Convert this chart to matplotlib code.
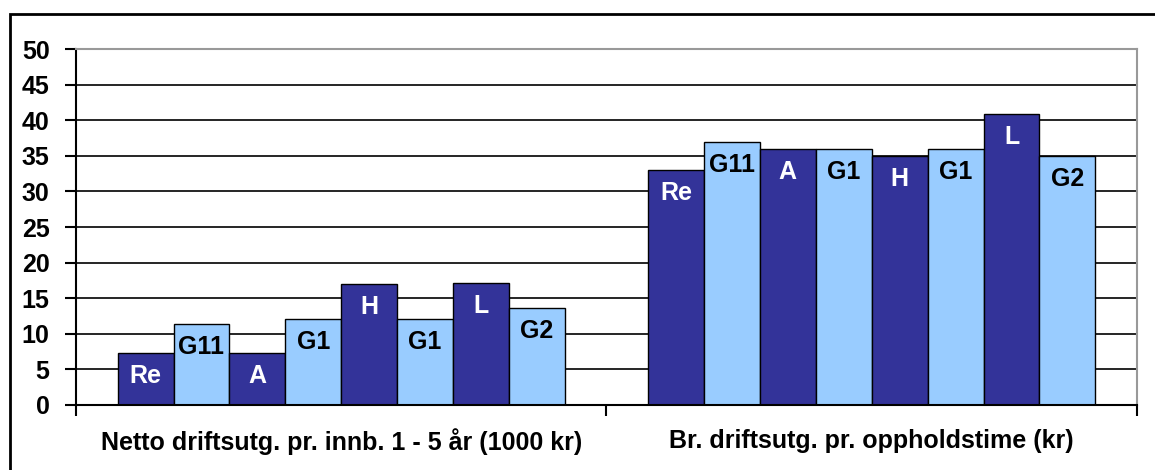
import numpy as np
import matplotlib.pyplot as plt
from matplotlib.patches import Rectangle

plt.rcParams['font.family'] = ['Liberation Sans', 'DejaVu Sans']
plt.rcParams['font.weight'] = 'bold'

#################### Data ####################
CATEGORIES = ['Netto driftsutg. pr. innb. 1 - 5 år (1000 kr)',
              'Br. driftsutg. pr. oppholdstime (kr)']
UNITS = ['Re', 'G11', 'A', 'G1', 'H', 'G1', 'L', 'G2']
NETTO = [7.3, 11.4, 7.3, 12.1, 17.0, 12.1, 17.1, 13.6]
BRUTTO = [33.0, 37.0, 35.9, 35.9, 35.0, 35.9, 40.9, 35.0]
#################### Data ####################

DARK = '#333399'
LIGHT = '#99CCFF'
FS = 18

fig = plt.figure(figsize=(11.55, 4.70), dpi=100)
ax = fig.add_axes([0.0658, 0.1383, 0.9186, 0.7574])

# outer chart frame (runs off the right and bottom edge)
fig.patches.append(Rectangle((9.5 / 1155, -0.05), 1.2, 0.05 + 1 - 14 / 470,
                             transform=fig.transFigure, fill=False,
                             edgecolor='black', linewidth=2, clip_on=False))

width = 0.1054
values = np.array([NETTO, BRUTTO])
for i, unit in enumerate(UNITS):
    color = DARK if i % 2 == 0 else LIGHT
    txt_color = 'white' if i % 2 == 0 else 'black'
    xs = np.arange(len(CATEGORIES)) + (i - 3.5) * width
    ax.bar(xs, values[:, i], width=width, color=color,
           edgecolor='black', linewidth=1, zorder=3)
    for x, v in zip(xs, values[:, i]):
        ax.annotate(unit, (x, v), xytext=(0, -23), textcoords='offset pixels',
                    ha='center', va='center', color=txt_color,
                    fontsize=FS, fontweight='bold', zorder=4)

ax.set_xlim(-0.5, 1.5)
ax.set_ylim(0, 50)
ax.set_yticks(range(0, 51, 5))
for y in range(5, 50, 5):
    ax.axhline(y, color='black', linewidth=1.2, zorder=1)

ax.set_xticks([-0.5, 0.5, 1.5])
ax.set_xticklabels([])
ax.set_xticks([0, 1], minor=True)
ax.set_xticklabels(CATEGORIES, minor=True)
ax.tick_params(axis='x', which='minor', length=0, pad=17, labelsize=FS)
ax.tick_params(axis='x', which='major', length=8, width=1.5, direction='out')
ax.tick_params(axis='y', length=8, width=1.5, pad=11, labelsize=FS)

for s in ['top', 'right']:
    ax.spines[s].set_color('#999999')
    ax.spines[s].set_linewidth(1.5)
ax.spines['left'].set_linewidth(1.5)
ax.spines['bottom'].set_linewidth(1.5)
ax.spines['bottom'].set_zorder(5)

plt.savefig('out.png', dpi=100)
